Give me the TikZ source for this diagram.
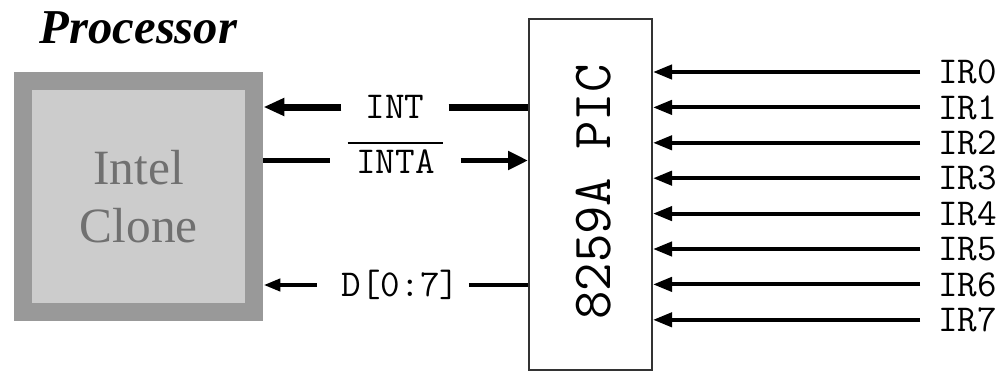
\documentclass[tikz,border=0pt]{standalone}
\usepackage{fontspec}
\setmainfont{Liberation Serif}
\usetikzlibrary{arrows.meta}
\definecolor{procouter}{HTML}{999999}
\definecolor{procinner}{HTML}{CCCCCC}
\definecolor{proctext}{HTML}{707070}
\definecolor{picedge}{HTML}{333333}
\newcommand{\barsig}[1]{\vbox{\hrule height 1.5pt\kern 4.5pt\hbox{\kern 6.5pt#1\kern 6.5pt\vrule depth 4.5pt width 0pt}}}

\begin{document}
\begin{tikzpicture}[x=0.75pt, y=-0.75pt,
  siglabel/.style={inner ysep=0pt, font=\fontsize{28.5}{31}\selectfont\ttfamily},
  intline/.style={line width=5.25pt},
  intaline/.style={line width=3.75pt},
  dline/.style={line width=3.4pt},
  irline/.style={line width=3pt},
  inttip/.style={-{Triangle[length=15.75pt,width=12.75pt]}},
  intatip/.style={-{Triangle[length=15pt,width=13.5pt]}},
  dtip/.style={-{Triangle[length=12.75pt,width=9pt]}},
  irtip/.style={-{Triangle[length=14.25pt,width=10.5pt]}}]

\useasboundingbox (0,0) rectangle (1007,372);

% processor
\node[font=\fontsize{36.5}{40}\selectfont\bfseries\itshape, anchor=base] (title) at (138.5,43) {Processor};
\node[draw=procouter, fill=procinner, line width=13.5pt, minimum width=173.6pt, minimum height=173.6pt,
  inner sep=0pt, align=center, text=proctext, font=\fontsize{37}{43.5}\selectfont] (proc) at (138.75,196.75) {Intel\\Clone};

% 8259A
\node[draw=picedge, line width=1.5pt, minimum width=92.25pt, minimum height=263.6pt, inner sep=0pt] (pic) at (590.5,194.75) {};
\node[rotate=90, font=\fontsize{41.3}{45}\selectfont\ttfamily] (picname) at (594,192) {8259A PIC};

% signals between them
\node[siglabel, inner xsep=18pt] (int) at (395,107) {INT};
\draw[intline, inttip] (int.west) -- (int.west -| proc.east);
\draw[intline] (int.east) -- (int.east -| pic.west);

\node[siglabel, inner xsep=13pt] (inta) at (395.5,160.5) {\barsig{INTA}};
\draw[intaline] (inta.west -| proc.east) -- (inta.west);
\draw[intaline, intatip] (inta.east) -- (inta.east -| pic.west);

\node[siglabel, inner xsep=7pt] (d) at (400.5,285) {D[0:7]};
\draw[dline, dtip] ([xshift=-11.5pt]d.west) -- (d.west -| proc.east);
\draw[dline] (d.east) -- (d.east -| pic.west);

% interrupt requests
\foreach \i in {0,...,7} {
  \node[siglabel, anchor=west, inner xsep=13.5pt] (ir\i) at (920,{72+35.4*\i}) {IR\i};
  \draw[irline, irtip] (ir\i.west) -- (ir\i.west -| pic.east);
}

\end{tikzpicture}
\end{document}
